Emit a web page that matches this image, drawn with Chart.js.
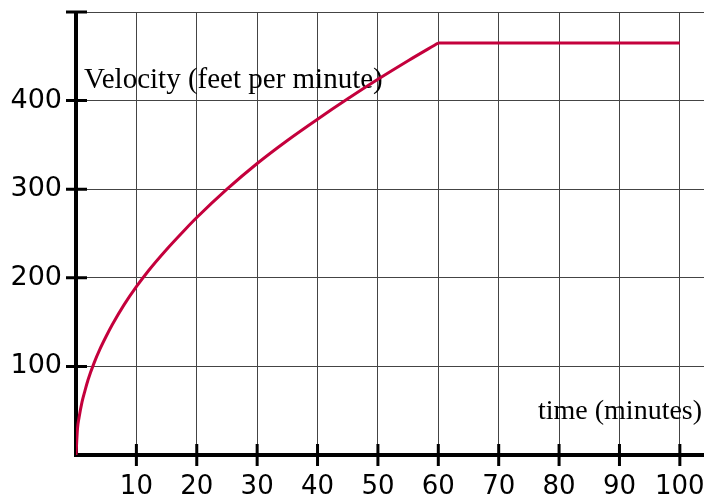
<!DOCTYPE html>
<html>
<head>
<meta charset="utf-8">
<script src="https://cdn.jsdelivr.net/npm/chart.js@4.4.1/dist/chart.umd.min.js"></script>
<style>
  html, body { margin: 0; padding: 0; background: #fff; }
  #wrap { width: 704px; height: 500px; }
</style>
</head>
<body>
<div id="wrap"><canvas id="velocityChart" width="704" height="500"></canvas></div>
<script>
// time (minutes) and velocity (feet per minute)
// rising part up to 60 minutes
const riseTime = [0, 0.25, 0.5, 1, 1.5, 2, 3, 4, 5, 6, 8, 10, 12, 15, 18, 20, 25, 30, 35, 40, 45, 50, 55, 60];
const riseVelocity = [0, 30, 42, 60, 73, 85, 104, 120, 134, 147, 170, 190, 208, 232, 254, 268, 300, 329, 355, 379, 402, 424, 445, 465];
// constant part after 60 minutes
const flatTime = [60, 100];
const flatVelocity = [465, 465];

const xTicks = [10, 20, 30, 40, 50, 60, 70, 80, 90, 100];
const yTicks = [100, 200, 300, 400];
const yTitle = 'Velocity (feet per minute)';
const xTitle = 'time (minutes)';

const lineColor = '#c4003c';

// thick axes, cross ticks and the two titles
const axesPlugin = {
  id: 'axesPlugin',
  beforeDatasetsDraw(chart) {
    const ctx = chart.ctx;
    const x = chart.scales.x, y = chart.scales.y;
    const x0 = x.getPixelForValue(0), y0 = y.getPixelForValue(0);
    ctx.save();
    ctx.strokeStyle = '#000';
    ctx.lineCap = 'butt';
    ctx.lineWidth = 4;
    ctx.beginPath();
    ctx.moveTo(x0, y.getPixelForValue(500));
    ctx.lineTo(x0, y0 + 2);
    ctx.moveTo(x0 - 2, y0);
    ctx.lineTo(chart.width, y0);
    ctx.stroke();

    ctx.lineWidth = 3;
    ctx.beginPath();
    yTicks.concat([500]).forEach(v => {
      const py = y.getPixelForValue(v);
      ctx.moveTo(x0 - 10, py);
      ctx.lineTo(x0 + 11, py);
    });
    xTicks.forEach(v => {
      const px = x.getPixelForValue(v);
      ctx.moveTo(px, y0 - 11);
      ctx.lineTo(px, y0 + 11);
    });
    ctx.stroke();

    ctx.fillStyle = '#000';
    ctx.textAlign = 'left';
    ctx.textBaseline = 'alphabetic';
    ctx.font = '29px "Liberation Serif", "Times New Roman", serif';
    ctx.fillText(yTitle, 84, 88);
    ctx.font = '28px "Liberation Serif", "Times New Roman", serif';
    ctx.fillText(xTitle, 538, 419);
    ctx.restore();
  }
};

const toPoints = (xs, ys) => xs.map((t, i) => ({ x: t, y: ys[i] }));

new Chart(document.getElementById('velocityChart'), {
  type: 'line',
  data: {
    datasets: [
      {
        data: toPoints(riseTime, riseVelocity),
        borderColor: lineColor,
        borderWidth: 3,
        pointRadius: 0,
        cubicInterpolationMode: 'monotone',
        fill: false
      },
      {
        data: toPoints(flatTime, flatVelocity),
        borderColor: lineColor,
        borderWidth: 3,
        pointRadius: 0,
        tension: 0,
        fill: false
      }
    ]
  },
  options: {
    responsive: false,
    animation: false,
    layout: { padding: { top: 12, left: 0, right: 0, bottom: 0 } },
    plugins: { legend: { display: false }, tooltip: { enabled: false } },
    scales: {
      x: {
        type: 'linear',
        min: 0,
        max: 104,
        grid: { color: '#444', lineWidth: 1, drawTicks: false },
        border: { display: false },
        ticks: {
          stepSize: 10,
          includeBounds: false,
          maxRotation: 0,
          autoSkip: false,
          padding: 17,
          color: '#000',
          font: { family: '"DejaVu Sans", Verdana, sans-serif', size: 26 },
          callback: v => (xTicks.includes(v) ? String(v) : '')
        },
        afterFit: s => { s.height = 45; s.paddingLeft = 0; s.paddingRight = 0; }
      },
      y: {
        min: 0,
        max: 500,
        grid: { color: '#444', lineWidth: 1, drawTicks: false },
        border: { display: false },
        ticks: {
          stepSize: 100,
          padding: 14,
          color: '#000',
          font: { family: '"DejaVu Sans", Verdana, sans-serif', size: 27 },
          callback: v => (yTicks.includes(v) ? String(v) : '')
        },
        afterFit: s => { s.width = 76; s.paddingTop = 0; s.paddingBottom = 0; }
      }
    }
  },
  plugins: [axesPlugin]
});
</script>
</body>
</html>
